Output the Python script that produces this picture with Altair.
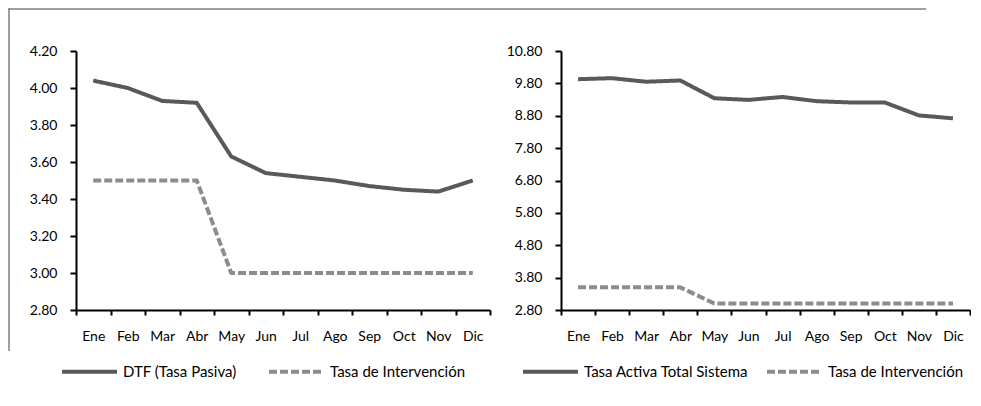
import altair as alt
import pandas as pd

months = ["Ene", "Feb", "Mar", "Abr", "May", "Jun", "Jul", "Ago", "Sep", "Oct", "Nov", "Dic"]
dtf = [4.04, 4.00, 3.93, 3.92, 3.63, 3.54, 3.52, 3.50, 3.47, 3.45, 3.44, 3.50]
intervencion = [3.50, 3.50, 3.50, 3.50, 3.00, 3.00, 3.00, 3.00, 3.00, 3.00, 3.00, 3.00]
activa = [9.93, 9.96, 9.85, 9.89, 9.34, 9.29, 9.38, 9.25, 9.21, 9.21, 8.81, 8.72]

left_names = ["DTF (Tasa Pasiva)", "Tasa de Intervención"]
right_names = ["Tasa Activa Total Sistema", "Tasa de Intervención"]
left_ticks = [2.8, 3.0, 3.2, 3.4, 3.6, 3.8, 4.0, 4.2]
right_ticks = [2.8, 3.8, 4.8, 5.8, 6.8, 7.8, 8.8, 9.8, 10.8]

FONT = "Lato"
DARK = "#595959"
LIGHT = "#8c8c8c"


def long_df(names, a, b):
    rows = []
    for m, v in zip(months, a):
        rows.append({"month": m, "value": v, "series": names[0]})
    for m, v in zip(months, b):
        rows.append({"month": m, "value": v, "series": names[1]})
    return pd.DataFrame(rows)


def panel(df, names, ticks, width, height, leg_x, leg_y, col_pad, border=False):
    legend = alt.Legend(
        title=None, orient="none", legendX=leg_x, legendY=leg_y,
        direction="horizontal", symbolType="stroke", symbolSize=3025,
        symbolStrokeWidth=4, labelFont=FONT, labelFontSize=15, labelLimit=0,
        labelColor="black", labelOffset=4, columnPadding=col_pad, padding=0,
    )
    lines = alt.Chart(df).mark_line(strokeWidth=4, strokeCap="butt", strokeJoin="round").encode(
        x=alt.X("month:O", sort=months, bandPosition=0.5,
                scale=alt.Scale(type="band", paddingInner=0, paddingOuter=0),
                axis=alt.Axis(title=None, tickBand="extent", labelAngle=0, tickSize=5,
                              labelPadding=14)),
        y=alt.Y("value:Q", scale=alt.Scale(domain=[ticks[0], ticks[-1]], nice=False, zero=False),
                axis=alt.Axis(title=None, values=ticks, format=".2f", tickSize=6,
                              labelPadding=13, grid=False)),
        color=alt.Color("series:N", sort=names,
                        scale=alt.Scale(domain=names, range=[DARK, LIGHT]), legend=legend),
        strokeDash=alt.StrokeDash("series:N", sort=names,
                                  scale=alt.Scale(domain=names, range=[[1, 0], [8, 3]]),
                                  legend=legend),
        order=alt.Order("month_idx:Q"),
    ).transform_calculate(
        month_idx="indexof(" + str(months) + ", datum.month)"
    )
    layers = [lines]
    if border:
        one = pd.DataFrame({"k": [0]})
        vline = alt.Chart(one).mark_rect(color="#404040").encode(
            x=alt.value(-67.5), x2=alt.value(-66.5), y=alt.value(-42.5), y2=alt.value(300))
        hline = alt.Chart(one).mark_rect(color="#404040").encode(
            x=alt.value(-67.5), x2=alt.value(850), y=alt.value(-42.5), y2=alt.value(-41.5))
        layers = [vline, hline, lines]
    return alt.layer(*layers).properties(width=width, height=height)


left = panel(long_df(left_names, dtf, intervencion), left_names, left_ticks,
             414, 259, -16, 291, 24, border=True)
right = panel(long_df(right_names, activa, intervencion), right_names, right_ticks,
              409, 259, -40, 291, 10)

chart = alt.hconcat(left, right, spacing=71, bounds="flush").resolve_scale(
    color="independent", strokeDash="independent"
).resolve_legend(color="independent", strokeDash="independent").properties(
    padding=0, background="white"
).configure_view(stroke=None).configure_axis(
    domainColor="black", domainWidth=2, tickColor="black", tickWidth=2,
    labelFont=FONT, labelFontSize=14, labelColor="black", grid=False,
)

chart.save("out.html", embed_options={"renderer": "svg", "actions": False})
